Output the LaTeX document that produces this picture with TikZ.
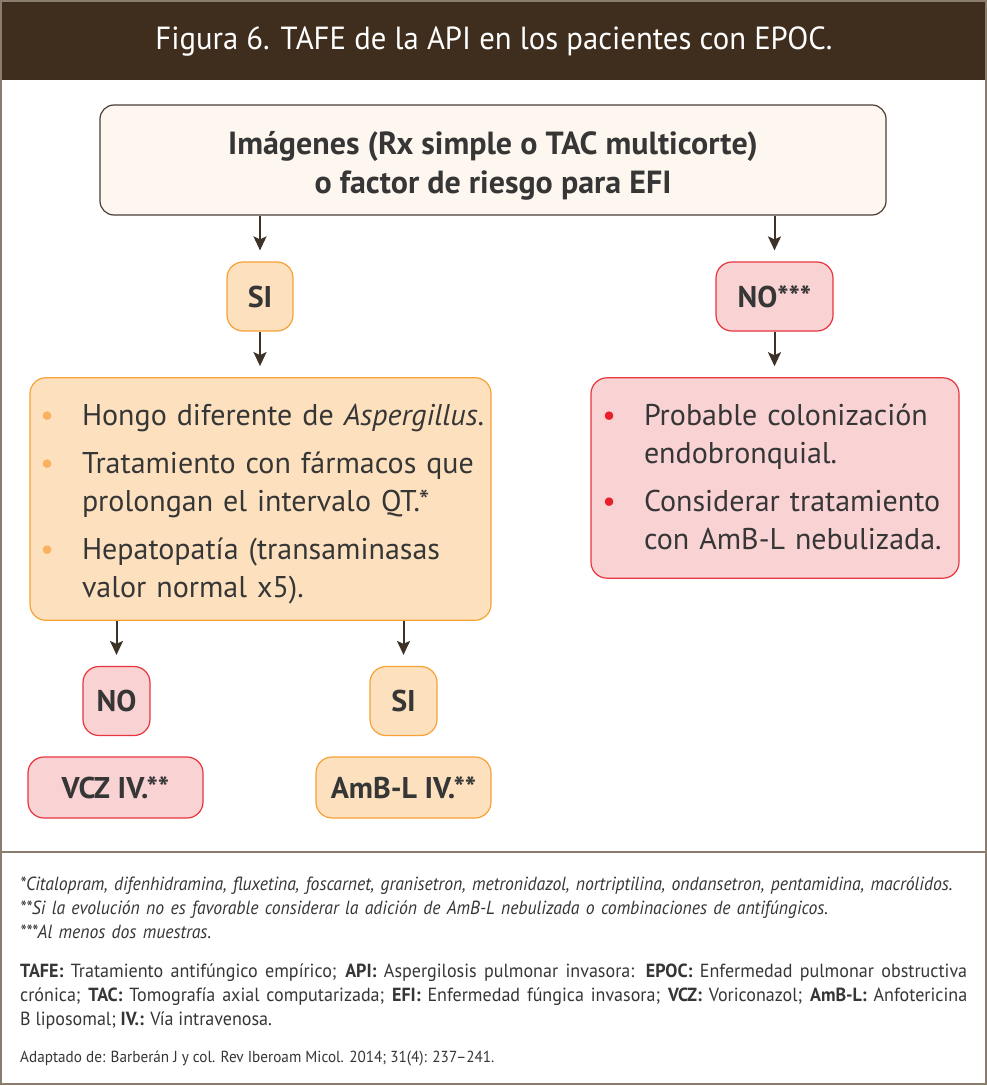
\documentclass[tikz,border=0pt]{standalone}
\usepackage{fontspec}
\setmainfont{PT Sans}
\newfontfamily\estrecha[FakeStretch=0.95]{PT Sans}
\newfontfamily\llamada[FakeStretch=0.93]{PT Sans}
\newfontfamily\titular[FakeStretch=0.96]{PT Sans}
\usepackage{xcolor}
\usetikzlibrary{arrows.meta,positioning}

\definecolor{cafe}{HTML}{3F2E1D}
\definecolor{marco}{HTML}{8A7D6D}
\definecolor{crema}{HTML}{FDF7F0}
\definecolor{bordecrema}{HTML}{4A3F36}
\definecolor{naranjaclaro}{HTML}{FDE1BF}
\definecolor{naranja}{HTML}{F7A235}
\definecolor{puntonaranja}{HTML}{F9B15F}
\definecolor{rosa}{HTML}{F9D2D4}
\definecolor{rojo}{HTML}{E8353E}
\definecolor{puntorojo}{HTML}{E8202A}
\definecolor{texto}{HTML}{363636}
\definecolor{flechacolor}{HTML}{3D3228}

% vineta: color, sangria, texto
\newcommand{\vineta}[3]{\par\noindent\hangindent=#2\hangafter=0\hyphenpenalty=10000%
  \llap{\textcolor{#1}{\textbullet}\hspace{28pt}}#3}

\begin{document}
\begin{tikzpicture}[
  x=1pt, y=-1pt,
  every node/.style={text=texto},
  pregunta/.style={draw=bordecrema, fill=crema, rounded corners=14pt, line width=1.2pt,
                   minimum width=786pt, minimum height=110pt, align=center,
                   font=\fontsize{32}{39}\selectfont\bfseries},
  naranjabox/.style={draw=naranja, fill=naranjaclaro, rounded corners=16pt, line width=1.2pt},
  rosabox/.style={draw=rojo, fill=rosa, rounded corners=16pt, line width=1.2pt},
  etiqueta/.style={minimum height=69pt, inner sep=0pt, font=\fontsize{30}{34}\selectfont\bfseries},
  farmaco/.style={minimum width=175pt, minimum height=61pt, inner sep=0pt,
                  font=\fontsize{30}{34}\selectfont\bfseries},
  lista/.style={align=left, inner ysep=0pt, font=\fontsize{30}{38}\selectfont},
  nota/.style={inner sep=0pt, text width=947pt},
  flecha/.style={-{Stealth[length=14pt,width=13pt,inset=3pt]}, draw=flechacolor,
                 line width=2pt, shorten >=11pt},
]
\useasboundingbox (0,0) rectangle (987,1086);

%% --- Marco y cabecera ---
\fill[white] (0,0) rectangle (987,1086);
\fill[cafe] (0,0) rectangle (987,80);
\draw[marco, line width=2pt] (1,1) rectangle (985.5,1084);
\draw[marco, line width=1.5pt] (0,852) -- (987,852);
\node[text=white, font=\titular\fontsize{32}{36}\selectfont] (titulo) at (494,42)
  {Figura 6. TAFE de la API en los pacientes con EPOC.};

%% --- Fila 1: pregunta ---
\node[pregunta] (imagenes) at (493,160)
  {\rule{0pt}{34pt}Imágenes (Rx simple o TAC multicorte)\\o factor de riesgo para EFI};

%% --- Fila 2: SI / NO*** ---
\node[naranjabox, etiqueta, minimum width=66pt] (si1) at (260,296.5) {SI};
\node[rosabox, etiqueta, minimum width=117pt] (no1) at (774.5,296.5) {NO***};

%% --- Fila 3: listas ---
\node[naranjabox, lista, text width=446pt, inner xsep=7.5pt, minimum height=242pt] (criterios) at (260.5,499)
  {\setlength{\parskip}{10pt}%
   \vineta{puntonaranja}{44.5pt}{\mbox{Hongo diferente de \textit{Aspergillus}.}}
   \vineta{puntonaranja}{44.5pt}{Tratamiento con fármacos que\newline prolongan el intervalo QT.*}
   \vineta{puntonaranja}{44.5pt}{Hepatopatía (transaminasas\newline valor normal x5).}\par\vspace{16pt}};
\node[rosabox, lista, text width=344pt, inner xsep=12pt, minimum height=200pt] (colonizacion) at (775,478)
  {\setlength{\parskip}{10pt}%
   \vineta{puntorojo}{41pt}{Probable colonización\newline endobronquial.}
   \vineta{puntorojo}{41pt}{Considerar tratamiento\newline con AmB-L nebulizada.}\par\vspace{28pt}};

%% --- Fila 4: NO / SI ---
\node[rosabox, etiqueta, minimum width=67pt] (no2) at (116.5,701) {NO};
\node[naranjabox, etiqueta, minimum width=67pt] (si2) at (403.5,701) {SI};

%% --- Fila 5: tratamientos ---
\node[rosabox, farmaco] (vcz) at (115.5,787.5) {VCZ IV.**};
\node[naranjabox, farmaco] (amb) at (403.5,787.5) {AmB-L IV.**};

%% --- Flechas ---
\draw[flecha] (imagenes.south -| si1.north) -- (si1.north);
\draw[flecha] (imagenes.south -| no1.north) -- (no1.north);
\draw[flecha] (si1.south) -- (si1.south |- criterios.north);
\draw[flecha] (no1.south) -- (no1.south |- colonizacion.north);
\draw[flecha] (criterios.south -| no2.north) -- (no2.north);
\draw[flecha] (criterios.south -| si2.north) -- (si2.north);

%% --- Notas al pie ---
\node[nota, anchor=base west, align=left, font=\llamada\fontsize{19}{24}\selectfont\itshape] (llamadas) at (20,890)
  {*Citalopram, difenhidramina, fluxetina, foscarnet, granisetron, metronidazol, nortriptilina, ondansetron, pentamidina, macrólidos.\newline
   **Si la evolución no es favorable considerar la adición de AmB-L nebulizada o combinaciones de antifúngicos.\newline
   ***Al menos dos muestras.};
\node[nota, anchor=base west, align=justify, font=\estrecha\fontsize{19}{24}\selectfont] (abreviaturas) at (20,977)
  {\textbf{TAFE:} Tratamiento antifúngico empírico; \textbf{API:} Aspergilosis pulmonar invasora: \textbf{EPOC:} Enfermedad pulmonar obstructiva\linebreak
   crónica; \textbf{TAC:} Tomografía axial computarizada; \textbf{EFI:} Enfermedad fúngica invasora; \textbf{VCZ:} Voriconazol; \textbf{AmB-L:} Anfotericina\linebreak
   B liposomal; \textbf{IV.:} Vía intravenosa.};
\node[anchor=base west, inner sep=0pt, font=\estrecha\fontsize{16}{18}\selectfont] (fuente) at (20,1062)
  {Adaptado de: Barberán J y col. Rev Iberoam Micol. 2014; 31(4): 237–241.};
\end{tikzpicture}
\end{document}
